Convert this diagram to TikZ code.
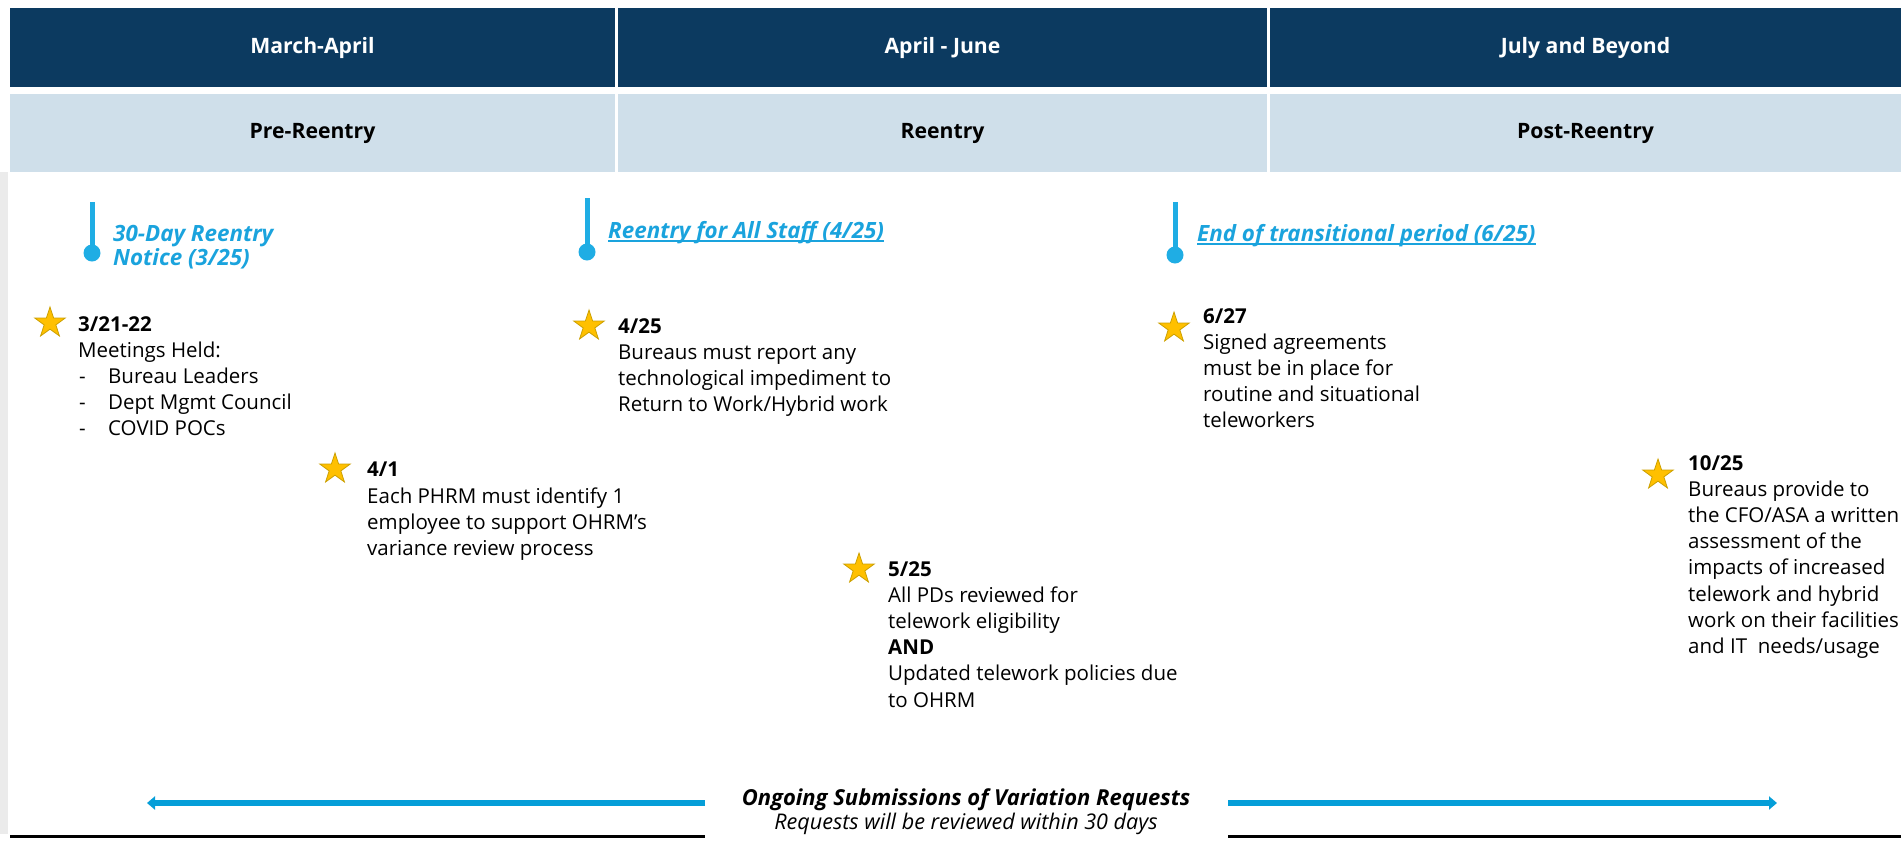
\documentclass[tikz,border=0pt]{standalone}
\usepackage{fontspec}
\setmainfont{Open Sans}
\usetikzlibrary{shapes.geometric,arrows.meta}
\definecolor{navy}{HTML}{0C3A60}
\definecolor{lightblue}{HTML}{CFDFEA}
\definecolor{stripgray}{HTML}{EBEBEB}
\definecolor{mblue}{HTML}{1FADE4}
\definecolor{lblue}{HTML}{1AA3DD}
\definecolor{ablue}{HTML}{059ED8}
\definecolor{gold}{HTML}{FFC000}
\definecolor{golddark}{HTML}{CCA000}
\newcommand\dashitem[1]{\makebox[30pt][l]{\hspace{1pt}-}#1}
\tikzset{
 darkcell/.style={fill=navy, text=white, font=\bfseries\fontsize{21.2}{25}\selectfont, minimum height=79, inner sep=0},
 lightcell/.style={fill=lightblue, text=black, font=\bfseries\fontsize{21.2}{25}\selectfont, minimum height=78, inner sep=0},
 starmark/.style={star, star points=5, star point ratio=2.6, fill=gold, draw=golddark, line width=0.8, minimum size=32, inner sep=0},
 evtext/.style={anchor=north west, align=left, inner sep=0, font=\fontsize{20.5}{26.2}\selectfont},
 mdot/.style={circle, fill=mblue, minimum size=17, inner sep=0},
 mline/.style={draw=mblue, line width=5},
 mlabel/.style={inner sep=0, text=lblue, font=\bfseries\itshape\fontsize{22.4}{24}\selectfont},
 ulstyle/.style={draw=lblue, line width=1.8},
 bigarrow/.style={draw=ablue, line width=6, -{Triangle[length=8,width=13]}},
 blackrule/.style={draw=black, line width=3},
}
\begin{document}
\begin{tikzpicture}[x=1pt,y=-1pt]
\clip (0,0) rectangle (1901,844);
\useasboundingbox (0,0) rectangle (1901,844);
% left gray strip
\fill[stripgray] (0,172) rectangle (8,834);
% header cells
\node[darkcell, minimum width=605] (h1) at (312.5,47.5) {March-April};
\node[darkcell, minimum width=649] (h2) at (942.5,47.5) {April - June};
\node[darkcell, minimum width=631] (h3) at (1585.5,47.5) {July and Beyond};
\node[lightcell, minimum width=605] (p1) at (312.5,133) {Pre-Reentry};
\node[lightcell, minimum width=649] (p2) at (942.5,133) {Reentry};
\node[lightcell, minimum width=631] (p3) at (1585.5,133) {Post-Reentry};
% markers
\coordinate (m1top) at (92,202);
\node[mdot] (m1dot) at (92,253) {};
\draw[mline] (m1top) -- (m1dot.center);
\node[mlabel, anchor=north west, align=left] (l1) at (113,225) {30-Day Reentry\\Notice (3/25)};
\coordinate (m2top) at (587,198);
\node[mdot] (m2dot) at (587,252) {};
\draw[mline] (m2top) -- (m2dot.center);
\node[mlabel, anchor=base west] (l2) at (608,238) {Reentry for All Staff (4/25)};
\draw[ulstyle] ([yshift=-3pt]l2.base west) -- ([yshift=-3pt]l2.base east);
\coordinate (m3top) at (1175,202);
\node[mdot] (m3dot) at (1175,255) {};
\draw[mline] (m3top) -- (m3dot.center);
\node[mlabel, anchor=base west] (l3) at (1197,241) {End of transitional period (6/25)};
\draw[ulstyle] ([yshift=-3pt]l3.base west) -- ([yshift=-3pt]l3.base east);
% events
\node[starmark] (s1) at (50,323) {};
\node[evtext] (e1) at (78,316) {\textbf{3/21-22}\\Meetings Held:\\\dashitem{Bureau Leaders}\\\dashitem{Dept Mgmt Council}\\\dashitem{COVID POCs}};
\node[starmark] (s2) at (335,469) {};
\node[evtext] (e2) at (367,462) {\textbf{4/1}\\Each PHRM must identify 1\\employee to support OHRM’s\\variance review process};
\node[starmark] (s3) at (589,326) {};
\node[evtext] (e3) at (618,318) {\textbf{4/25}\\Bureaus must report any\\technological impediment to\\Return to Work/Hybrid work};
\node[starmark] (s4) at (859,569) {};
\node[evtext] (e4) at (888,561) {\textbf{5/25}\\All PDs reviewed for\\telework eligibility\\\textbf{AND}\\Updated telework policies due\\to OHRM};
\node[starmark] (s5) at (1174,328) {};
\node[evtext] (e5) at (1203,308) {\textbf{6/27}\\Signed agreements\\must be in place for\\routine and situational\\teleworkers};
\node[starmark] (s6) at (1658,475) {};
\node[evtext] (e6) at (1688,455) {\textbf{10/25}\\Bureaus provide to\\the CFO/ASA a written\\assessment of the\\impacts of increased\\telework and hybrid\\work on their facilities\\and IT~ needs/usage};
% bottom
\node[inner sep=0, anchor=base, font=\bfseries\itshape\fontsize{22}{25}\selectfont] (ong) at (966,805) {Ongoing Submissions of Variation Requests};
\node[inner sep=0, anchor=base, font=\itshape\fontsize{21.6}{25}\selectfont] (req) at (966,829) {Requests will be reviewed within 30 days};
\coordinate (la) at (705,803);
\coordinate (lend) at (147,803);
\coordinate (ra) at (1228,803);
\coordinate (rend) at (1777,803);
\draw[bigarrow] (la) -- (lend);
\draw[bigarrow] (ra) -- (rend);
\coordinate (b1s) at (10,836);
\coordinate (b1e) at (705,836);
\coordinate (b2s) at (1228,836);
\coordinate (b2e) at (1901,836);
\draw[blackrule] (b1s) -- (b1e);
\draw[blackrule] (b2s) -- (b2e);
\end{tikzpicture}
\end{document}
